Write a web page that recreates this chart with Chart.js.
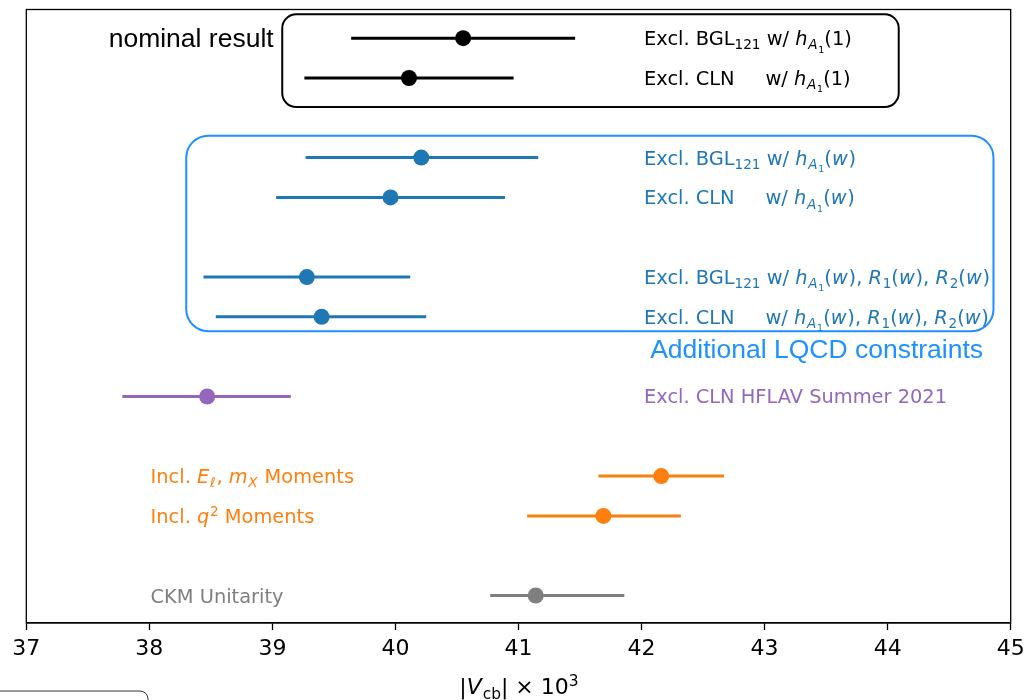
<!DOCTYPE html>
<html><head><meta charset="utf-8">
<script src="https://cdn.jsdelivr.net/npm/chart.js@4"></script>
<style>html,body{margin:0;padding:0;background:#fff}#wrap{width:1026px;height:700px;position:relative}</style>
</head><body><div id="wrap"><canvas id="c" width="1026" height="700"></canvas></div>
<script>
// ---- data ----
const rowPos  = [0, 1, 3, 4, 6, 7, 9, 11, 12, 14];
const centers = [40.55, 40.11, 40.21, 39.96, 39.28, 39.40, 38.47, 42.16, 41.69, 41.14];
const lowers  = [39.64, 39.26, 39.27, 39.03, 38.44, 38.54, 37.78, 41.65, 41.07, 40.77];
const uppers  = [41.46, 40.96, 41.16, 40.89, 40.12, 40.25, 39.15, 42.67, 42.32, 41.86];
const colors  = ['#000000','#000000','#1f77b4','#1f77b4','#1f77b4','#1f77b4','#9467bd','#ff7f0e','#ff7f0e','#7f7f7f'];
const xTicks  = [37, 38, 39, 40, 41, 42, 43, 44, 45];

// label anchors (data units) and rich-text segments: [text, italic, level]
const labelX = [42.02, 42.02, 42.02, 42.02, 42.02, 42.02, 42.02, 38.01, 38.01, 38.01];
const labelSegs = [
  [['Excl. BGL'],['121',0,-1],[' w/ '],['h',1],['A',1,-1],['1',0,-2],['(1)']],
  [['Excl. CLN     w/ '],['h',1],['A',1,-1],['1',0,-2],['(1)']],
  [['Excl. BGL'],['121',0,-1],[' w/ '],['h',1],['A',1,-1],['1',0,-2],['('],['w',1],[')']],
  [['Excl. CLN     w/ '],['h',1],['A',1,-1],['1',0,-2],['('],['w',1],[')']],
  [['Excl. BGL'],['121',0,-1],[' w/ '],['h',1],['A',1,-1],['1',0,-2],['('],['w',1],['), '],['R',1],['1',0,-1],['('],['w',1],['), '],['R',1],['2',0,-1],['('],['w',1],[')']],
  [['Excl. CLN     w/ '],['h',1],['A',1,-1],['1',0,-2],['('],['w',1],['), '],['R',1],['1',0,-1],['('],['w',1],['), '],['R',1],['2',0,-1],['('],['w',1],[')']],
  [['Excl. CLN HFLAV Summer 2021']],
  [['Incl. '],['E',1],['ℓ',1,-1],[', '],['m',1],['X',1,-1],[' Moments']],
  [['Incl. '],['q',1],['2',0,1],[' Moments']],
  [['CKM Unitarity']]
];
const annotations = [
  {text:'nominal result', x:39.01, y:0.05, align:'right', color:'#000000'},
  {text:'Additional LQCD constraints', x:42.07, y:7.85, align:'left', color:'#1e90ff'}
];
const boxes = [
  {x0:39.08, x1:44.09, y0:-0.60, y1:1.73, color:'#000000', r:14},
  {x0:38.30, x1:44.86, y0:2.45, y1:7.36, color:'#1e90ff', r:22}
];

// ---- datasets ----
const datasets = [];
rowPos.forEach((y, i) => {
  datasets.push({
    type: 'line',
    data: [{x: lowers[i], y: y}, {x: uppers[i], y: y}],
    borderColor: colors[i], borderWidth: 3, pointRadius: 0, showLine: true,
    borderCapStyle: 'butt', fill: false, order: 2
  });
});
datasets.push({
  type: 'scatter',
  data: rowPos.map((y, i) => ({x: centers[i], y: y})),
  pointRadius: 8, pointHoverRadius: 8, backgroundColor: colors, borderWidth: 0, order: 1
});

function roundRect(ctx, x0, y0, x1, y1, r) {
  ctx.beginPath();
  ctx.moveTo(x0 + r, y0);
  ctx.lineTo(x1 - r, y0); ctx.arcTo(x1, y0, x1, y0 + r, r);
  ctx.lineTo(x1, y1 - r); ctx.arcTo(x1, y1, x1 - r, y1, r);
  ctx.lineTo(x0 + r, y1); ctx.arcTo(x0, y1, x0, y1 - r, r);
  ctx.lineTo(x0, y0 + r); ctx.arcTo(x0, y0, x0 + r, y0, r);
  ctx.closePath();
}

const FS = 19.4;
function drawRich(ctx, segs, x, y, color, fs) {
  ctx.fillStyle = color;
  ctx.textBaseline = 'alphabetic';
  ctx.textAlign = 'left';
  let cx = x;
  const base = y + 0.36 * fs;
  segs.forEach(s => {
    const t = s[0], it = s[1], lv = s[2] || 0;
    let size = fs, dy = 0;
    if (lv === -1) { size = fs * 0.7; dy = 0.22 * fs; }
    else if (lv === -2) { size = fs * 0.49; dy = 0.22 * fs + 0.16 * fs; }
    else if (lv === 1) { size = fs * 0.7; dy = -0.38 * fs; }
    ctx.font = (it ? 'italic ' : '') + size + "px 'DejaVu Sans'";
    ctx.fillText(t, cx, base + dy);
    cx += ctx.measureText(t).width + (it ? 0.04 * fs : 0);
  });
}

const deco = {
  id: 'deco',
  afterDraw(chart) {
    const ctx = chart.ctx, xs = chart.scales.x, ys = chart.scales.y, a = chart.chartArea;
    ctx.save();
    // frame
    ctx.strokeStyle = '#000'; ctx.lineWidth = 1.3;
    ctx.strokeRect(a.left, a.top, a.right - a.left, a.bottom - a.top);
    // boxes
    boxes.forEach(b => {
      ctx.strokeStyle = b.color; ctx.lineWidth = 2;
      roundRect(ctx, xs.getPixelForValue(b.x0), ys.getPixelForValue(b.y0),
                xs.getPixelForValue(b.x1), ys.getPixelForValue(b.y1), b.r);
      ctx.stroke();
    });
    // labels
    rowPos.forEach((r, i) => {
      drawRich(ctx, labelSegs[i], xs.getPixelForValue(labelX[i]), ys.getPixelForValue(r), colors[i], FS);
    });
    // annotations
    annotations.forEach(an => {
      ctx.font = "26.5px 'Liberation Sans'";
      ctx.fillStyle = an.color; ctx.textAlign = an.align; ctx.textBaseline = 'middle';
      ctx.fillText(an.text, xs.getPixelForValue(an.x), ys.getPixelForValue(an.y));
    });
    // x axis title |V_cb| x 10^3
    const parts = [['|'],['V',1],['cb',0,-1],['|'],[' × 10'],['3',0,1]];
    let w = 0;
    parts.forEach(p => {
      const lv = p[2] || 0, size = lv ? 22 * 0.7 : 22;
      ctx.font = (p[1] ? 'italic ' : '') + size + "px 'DejaVu Sans'";
      w += ctx.measureText(p[0]).width;
    });
    const cxm = (a.left + a.right) / 2;
    drawRich(ctx, parts, cxm - w / 2, 686, '#000', 22);
    // partially visible frame at bottom-left
    ctx.strokeStyle = '#333'; ctx.lineWidth = 1;
    roundRect(ctx, -10, 691, 148, 740, 8);
    ctx.stroke();
    ctx.restore();
  }
};

new Chart(document.getElementById('c'), {
  type: 'scatter',
  data: { datasets },
  options: {
    responsive: false, animation: false, events: [],
    layout: { padding: { left: 26.3, right: 15.3, top: 9.5, bottom: 0 } },
    plugins: { legend: { display: false }, tooltip: { enabled: false } },
    scales: {
      x: {
        type: 'linear', min: 37, max: 45,
        afterBuildTicks: s => { s.ticks = xTicks.map(v => ({value: v})); },
        afterFit: s => { s.height = 77; s.paddingLeft = 0; s.paddingRight = 0; },
        ticks: { font: { family: 'DejaVu Sans', size: 22 }, color: '#000', padding: 6, maxRotation: 0 },
        grid: { drawOnChartArea: false, drawTicks: true, tickLength: 7, tickWidth: 1.3, color: '#000' },
        border: { display: true, color: '#000', width: 1.3 }
      },
      y: { type: 'linear', min: -0.72, max: 14.69, reverse: true, display: false }
    }
  },
  plugins: [deco]
});
</script></body></html>
